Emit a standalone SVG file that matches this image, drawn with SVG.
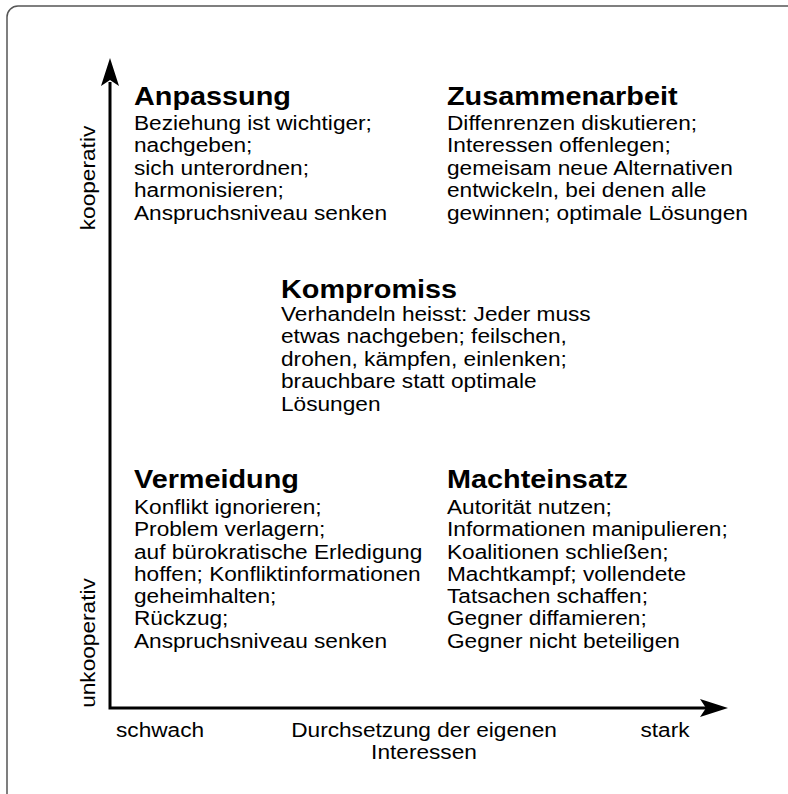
<svg xmlns="http://www.w3.org/2000/svg" width="788" height="794" viewBox="0 0 788 794">
<style>
text{font-family:"Liberation Sans",Arial,sans-serif;fill:#000}
.t{font-weight:bold;font-size:26.2px}
.b{font-size:20.6px}
.ax{font-size:20.6px}
.axis{stroke:#000;stroke-width:3;fill:none}
</style>
<rect x="0" y="0" width="788" height="794" fill="#fff"/>
<rect x="7" y="6" width="820" height="820" rx="11" fill="none" stroke="#555" stroke-width="1.5"/>
<g id="connectors">
<path class="axis" d="M110,82 V708 H706"/>
<polygon points="110,58 101,86 110,80 119,86" fill="#000"/>
<polygon points="728,708 700,699 706,708 700,717" fill="#000"/>
</g>
<g id="anpassung" transform="translate(134,0) scale(1.1,1)">
<text class="t" x="0" y="105">Anpassung</text>
<text class="b" x="0" y="130">Beziehung ist wichtiger;</text>
<text class="b" x="0" y="152.5">nachgeben;</text>
<text class="b" x="0" y="175">sich unterordnen;</text>
<text class="b" x="0" y="197.5">harmonisieren;</text>
<text class="b" x="0" y="220">Anspruchsniveau senken</text>
</g>
<g id="zusammenarbeit" transform="translate(447,0) scale(1.1,1)">
<text class="t" x="0" y="105">Zusammenarbeit</text>
<text class="b" x="0" y="130">Diffenrenzen diskutieren;</text>
<text class="b" x="0" y="152.5">Interessen offenlegen;</text>
<text class="b" x="0" y="175">gemeisam neue Alternativen</text>
<text class="b" x="0" y="197.5">entwickeln, bei denen alle</text>
<text class="b" x="0" y="220">gewinnen; optimale Lösungen</text>
</g>
<g id="kompromiss" transform="translate(281,0) scale(1.1,1)">
<text class="t" x="0" y="298">Kompromiss</text>
<text class="b" x="0" y="321">Verhandeln heisst: Jeder muss</text>
<text class="b" x="0" y="343.5">etwas nachgeben; feilschen,</text>
<text class="b" x="0" y="366">drohen, kämpfen, einlenken;</text>
<text class="b" x="0" y="388.5">brauchbare statt optimale</text>
<text class="b" x="0" y="411">Lösungen</text>
</g>
<g id="vermeidung" transform="translate(134,0) scale(1.1,1)">
<text class="t" x="0" y="488">Vermeidung</text>
<text class="b" x="0" y="514">Konflikt ignorieren;</text>
<text class="b" x="0" y="536.3">Problem verlagern;</text>
<text class="b" x="0" y="558.6">auf bürokratische Erledigung</text>
<text class="b" x="0" y="580.9">hoffen; Konfliktinformationen</text>
<text class="b" x="0" y="603.2">geheimhalten;</text>
<text class="b" x="0" y="625.5">Rückzug;</text>
<text class="b" x="0" y="647.8">Anspruchsniveau senken</text>
</g>
<g id="machteinsatz" transform="translate(447,0) scale(1.1,1)">
<text class="t" x="0" y="488">Machteinsatz</text>
<text class="b" x="0" y="514">Autorität nutzen;</text>
<text class="b" x="0" y="536.3">Informationen manipulieren;</text>
<text class="b" x="0" y="558.6">Koalitionen schließen;</text>
<text class="b" x="0" y="580.9">Machtkampf; vollendete</text>
<text class="b" x="0" y="603.2">Tatsachen schaffen;</text>
<text class="b" x="0" y="625.5">Gegner diffamieren;</text>
<text class="b" x="0" y="647.8">Gegner nicht beteiligen</text>
</g>
<g id="axis-labels">
<text class="ax" transform="translate(95,178) rotate(-90) scale(1.1,1)" text-anchor="middle">kooperativ</text>
<text class="ax" transform="translate(95,643) rotate(-90) scale(1.1,1)" text-anchor="middle">unkooperativ</text>
<text class="ax" transform="translate(116,737) scale(1.1,1)">schwach</text>
<text class="ax" transform="translate(424,737) scale(1.1,1)" text-anchor="middle">Durchsetzung der eigenen</text>
<text class="ax" transform="translate(424,759) scale(1.1,1)" text-anchor="middle">Interessen</text>
<text class="ax" transform="translate(665,737) scale(1.1,1)" text-anchor="middle">stark</text>
</g>
</svg>
